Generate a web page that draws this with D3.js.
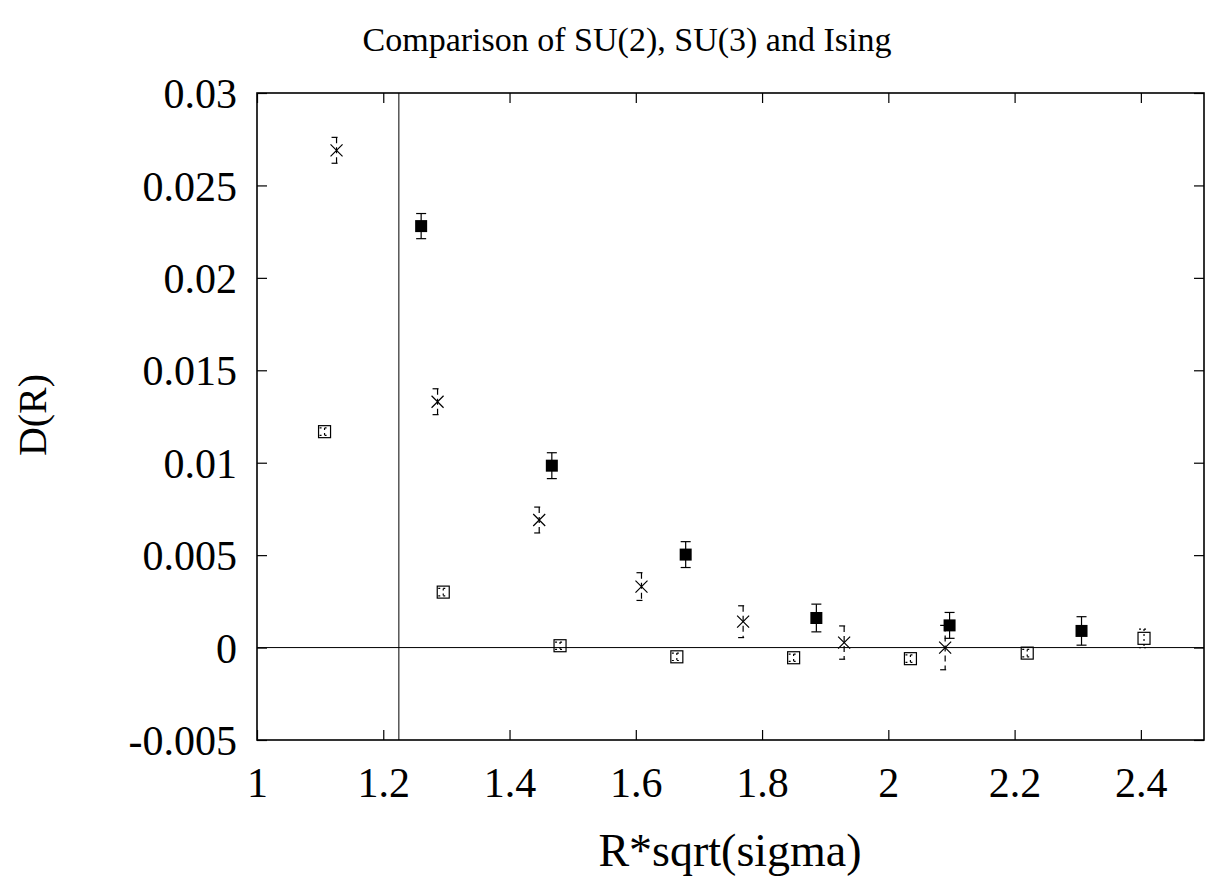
<!DOCTYPE html>
<html><head><meta charset="utf-8">
<script src="https://cdn.jsdelivr.net/npm/d3@7"></script>
<style>body{margin:0;background:#fff}svg{display:block}text{font-family:"Liberation Serif","Times New Roman",serif;fill:#000}</style>
</head><body><svg id="c" width="1211" height="876"></svg>
<script>
// Data
const xTicks = [1, 1.2, 1.4, 1.6, 1.8, 2, 2.2, 2.4];
const yTicks = [-0.005, 0, 0.005, 0.01, 0.015, 0.02, 0.025, 0.03];
const vLineX = 1.2247;
// crosses (dashed error bars)
const crossX = [1.126, 1.286, 1.447, 1.609, 1.770, 1.930, 2.090];
const crossY = [0.0269, 0.0133, 0.0069, 0.0033, 0.0014, 0.00027, 0.0000];
const crossE = [0.0007, 0.0007, 0.0007, 0.00075, 0.00086, 0.0009, 0.0012];
// filled squares (solid error bars)
const fillX = [1.260, 1.467, 1.679, 1.886, 2.097, 2.306];
const fillY = [0.0228, 0.00984, 0.00503, 0.0016, 0.0012, 0.0009];
const fillE = [0.00068, 0.0007, 0.0007, 0.00075, 0.0007, 0.00077];
// open squares (dotted error bars)
const openX = [1.107, 1.295, 1.480, 1.665, 1.850, 2.035, 2.220, 2.405];
const openY = [0.01168, 0.0030, 0.0001, -0.0005, -0.00055, -0.0006, -0.0003, 0.0005];
const openE = [0.0002, 0.0002, 0.0002, 0.0002, 0.0002, 0.0002, 0.0002, 0.0005];

const svg = d3.select("#c");
const L = 257, R = 1204, T = 93, B = 740;
const x = d3.scaleLinear().domain([1, 2.5]).range([L, R]);
const y = d3.scaleLinear().domain([-0.005, 0.03]).range([B, T]);
const fmt = d => (d === 0 ? "0" : (d < 0 ? "-" : "") + String(+Math.abs(d).toFixed(4)));

// axes (inward ticks)
const gB = svg.append("g").attr("transform", `translate(0,${B})`)
  .call(d3.axisBottom(x).tickValues(xTicks).tickSize(-10).tickPadding(27).tickFormat(fmt));
const gT = svg.append("g").attr("transform", `translate(0,${T})`)
  .call(d3.axisTop(x).tickValues(xTicks).tickSize(-10).tickFormat(""));
const gL = svg.append("g").attr("transform", `translate(${L},0)`)
  .call(d3.axisLeft(y).tickValues(yTicks).tickSize(-10).tickPadding(20).tickFormat(fmt));
const gR = svg.append("g").attr("transform", `translate(${R},0)`)
  .call(d3.axisRight(y).tickValues(yTicks).tickSize(-10).tickFormat(""));
[gB, gT, gL, gR].forEach(g => {
  g.select(".domain").remove();
  g.selectAll(".tick line").attr("stroke", "#000").attr("stroke-width", 1.2);
  g.selectAll("text").style("font-size", "42px").attr("font-family", null);
});
gB.selectAll("text").attr("dy", "0.71em");
gL.selectAll("text").attr("dy", "0.35em");

svg.append("rect").attr("x", L).attr("y", T).attr("width", R - L).attr("height", B - T)
  .attr("fill", "none").attr("stroke", "#000").attr("stroke-width", 1.6);

// reference lines
svg.append("line").attr("x1", L).attr("x2", R).attr("y1", y(0)).attr("y2", y(0))
  .attr("stroke", "#000").attr("stroke-width", 1);
svg.append("line").attr("x1", x(vLineX)).attr("x2", x(vLineX)).attr("y1", T).attr("y2", B)
  .attr("stroke", "#000").attr("stroke-width", 1);

function errbars(X, Y, E, dash) {
  const g = svg.append("g").attr("stroke", "#000").attr("stroke-width", 1.2)
    .attr("stroke-dasharray", dash);
  X.forEach((xv, i) => {
    const px = x(xv), y1 = y(Y[i] + E[i]), y2 = y(Y[i] - E[i]);
    g.append("line").attr("x1", px).attr("x2", px).attr("y1", y1).attr("y2", y2);
    g.append("line").attr("x1", px - 5).attr("x2", px + 5).attr("y1", y1).attr("y2", y1);
    g.append("line").attr("x1", px - 5).attr("x2", px + 5).attr("y1", y2).attr("y2", y2);
  });
}
errbars(crossX, crossY, crossE, "6,4");
errbars(fillX, fillY, fillE, null);
errbars(openX, openY, openE, "2,3");

// markers
const s = 6;
crossX.forEach((xv, i) => {
  const px = x(xv), py = y(crossY[i]);
  svg.append("path").attr("d", `M${px - s},${py - s}L${px + s},${py + s}M${px - s},${py + s}L${px + s},${py - s}`)
    .attr("stroke", "#000").attr("stroke-width", 1.2).attr("fill", "none");
});
fillX.forEach((xv, i) => {
  svg.append("rect").attr("x", x(xv) - s).attr("y", y(fillY[i]) - s).attr("width", 2 * s).attr("height", 2 * s)
    .attr("fill", "#000");
});
openX.forEach((xv, i) => {
  svg.append("rect").attr("x", x(xv) - s).attr("y", y(openY[i]) - s).attr("width", 2 * s).attr("height", 2 * s)
    .attr("fill", "none").attr("stroke", "#000").attr("stroke-width", 1.2);
});

// labels
svg.append("text").attr("x", 627).attr("y", 51).attr("text-anchor", "middle")
  .style("font-size", "34px").text("Comparison of SU(2), SU(3) and Ising");
svg.append("text").attr("x", 730).attr("y", 866).attr("text-anchor", "middle")
  .style("font-size", "46px").text("R*sqrt(sigma)");
svg.append("text").attr("transform", "translate(46,415) rotate(-90)").attr("text-anchor", "middle")
  .style("font-size", "40px").text("D(R)");
</script></body></html>
